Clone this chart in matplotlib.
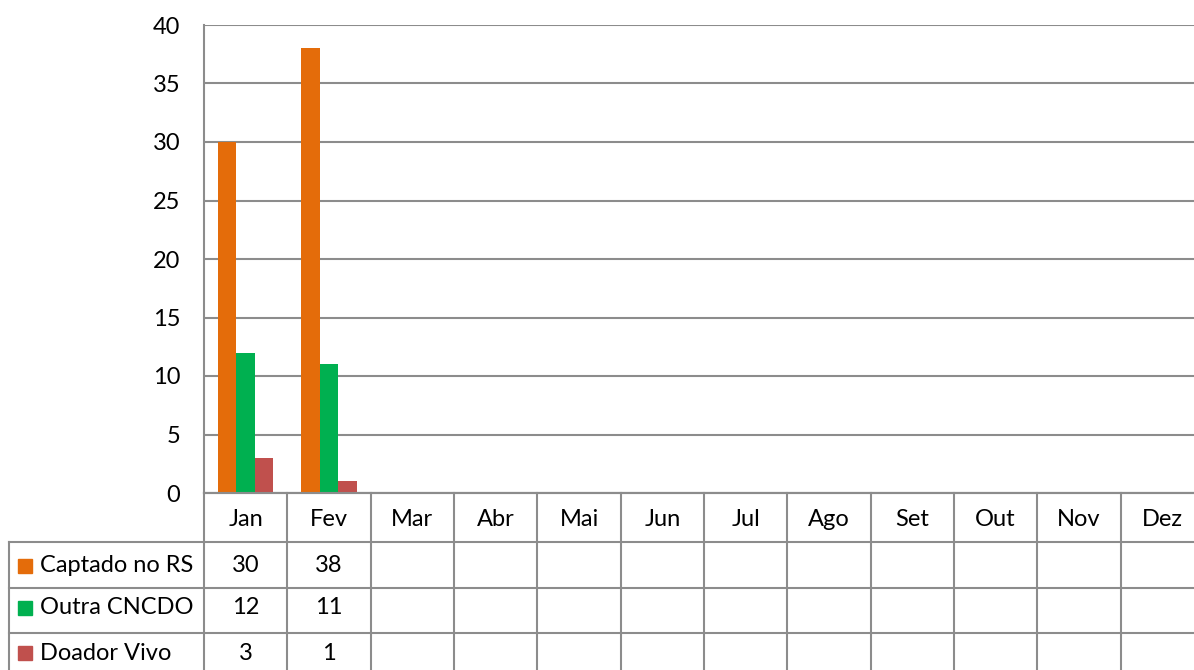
import numpy as np
import matplotlib.pyplot as plt
from matplotlib.patches import Rectangle

# Data
months = ["Jan", "Fev", "Mar", "Abr", "Mai", "Jun", "Jul", "Ago", "Set", "Out", "Nov", "Dez"]
series_names = ["Captado no RS", "Outra CNCDO", "Doador Vivo"]
captado = [30, 38]
outra = [12, 11]
doador = [3, 1]
colors = ["#E46C0A", "#00B050", "#C0504D"]

W, H = 1194, 670
grid_col = "#8C8C8C"
plt.rcParams['font.family'] = ['Lato', 'DejaVu Sans']
fs = 17

fig = plt.figure(figsize=(W / 100, H / 100), dpi=100)

# plot area in pixels (right edge runs past the image edge)
L, R, T, B = 204, 1204, 25, 493
ax = fig.add_axes([L / W, 1 - B / H, (R - L) / W, (B - T) / H])

n = len(months)
x = np.arange(n)
bw = 0.222
for i, vals in enumerate([captado, outra, doador]):
    xs = x[:len(vals)] + (i - 1) * bw
    ax.bar(xs, vals, width=bw, color=colors[i], edgecolor="none", zorder=3)

ax.set_xlim(-0.5, n - 0.5)
ax.set_ylim(0, 40)
ax.set_yticks(range(0, 41, 5))
ax.tick_params(axis='y', length=0, pad=17, labelsize=fs)
ax.set_xticks([])
ax.grid(axis='y', color=grid_col, linewidth=1.5, zorder=0)
for s in ["top", "right"]:
    ax.spines[s].set_visible(False)
ax.spines["left"].set_color(grid_col)
ax.spines["left"].set_linewidth(1.5)
ax.spines["bottom"].set_color(grid_col)
ax.spines["bottom"].set_linewidth(1.5)

# data table drawn in pixel coords
tb = fig.add_axes([0, 0, 1, 1])
tb.set_xlim(0, W)
tb.set_ylim(H, 0)
tb.axis("off")

col_w = (R - L) / n
rows_y = [B, 542, 588, 633, H + 5]
lw = 1.5

# horizontal lines
tb.plot([L, R], [rows_y[0], rows_y[0]], color=grid_col, lw=lw)
for y in rows_y[1:4]:
    tb.plot([9, R], [y, y], color=grid_col, lw=lw)
# vertical lines
for j in range(n + 1):
    xx = L + j * col_w
    tb.plot([xx, xx], [B, H + 5], color=grid_col, lw=lw)
tb.plot([9, 9], [rows_y[1], H + 5], color=grid_col, lw=lw)

# month headers
for j, m in enumerate(months):
    tb.text(L + (j + 0.5) * col_w, (rows_y[0] + rows_y[1]) / 2 + 2, m,
            ha="center", va="center", fontsize=fs)

# series rows
row_centers = [566, 608, 653]
for i, (name, vals) in enumerate(zip(series_names, [captado, outra, doador])):
    yc = row_centers[i]
    tb.add_patch(Rectangle((18, yc - 7), 14, 14, color=colors[i]))
    tb.text(40, yc, name, ha="left", va="center", fontsize=fs)
    for j, v in enumerate(vals):
        tb.text(L + (j + 0.5) * col_w, yc, str(v), ha="center", va="center", fontsize=fs)

fig.savefig("out.png", dpi=100)
